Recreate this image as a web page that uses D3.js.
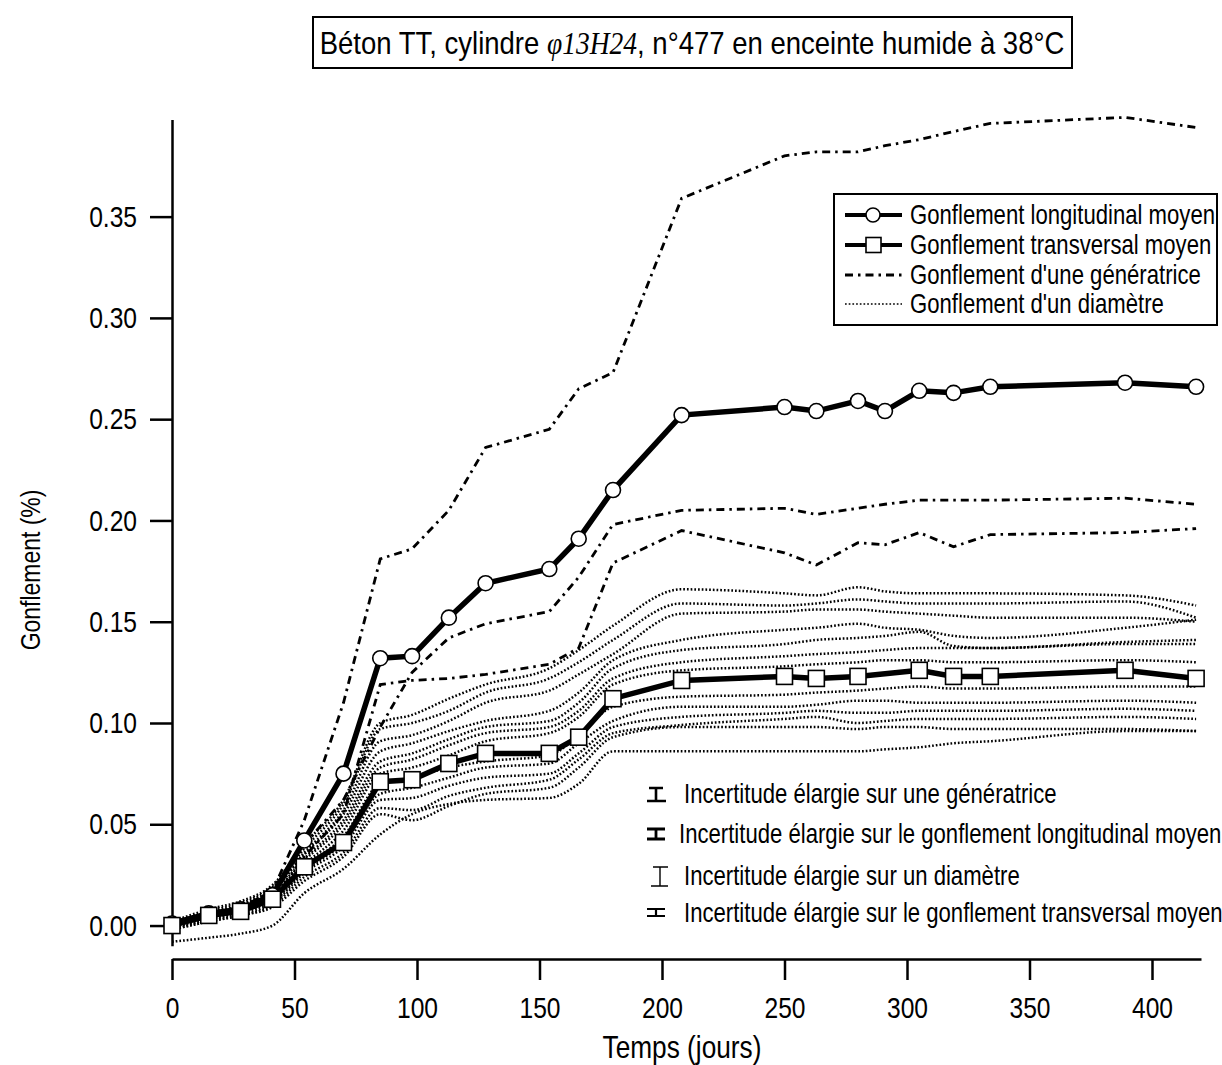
<!DOCTYPE html>
<html><head><meta charset="utf-8">
<script src="https://cdn.jsdelivr.net/npm/d3@7"></script>
<style>
body{margin:0;background:#fff}
svg{display:block}
text{font-family:"Liberation Sans Narrow","Arial Narrow","Liberation Sans",Arial,sans-serif;fill:#000}
</style>
</head><body>
<svg id="c" width="1222" height="1065"></svg>
<script>
// ---------- DATA ----------
const days = [0,15,28,41,54,70,85,98,113,128,154,166,180,208,250,263,280,291,305,319,334,389,418];
const longMean = [0.001,0.006,0.008,0.015,0.042,0.075,0.132,0.133,0.152,0.169,0.176,0.191,0.215,0.252,0.256,0.254,0.259,0.254,0.264,0.263,0.266,0.268,0.266];
const transDays = [0,15,28,41,54,70,85,98,113,128,154,166,180,208,250,263,280,305,319,334,389,418];
const transMean = [0.000,0.005,0.007,0.013,0.029,0.041,0.071,0.072,0.080,0.085,0.085,0.093,0.112,0.121,0.123,0.122,0.123,0.126,0.123,0.123,0.126,0.122];
const gen1 = [0.000,0.006,0.009,0.017,0.052,0.110,0.181,0.186,0.205,0.236,0.245,0.265,0.273,0.359,0.380,0.382,0.382,0.385,0.388,0.392,0.396,0.399,0.394];
const gen2 = [0.000,0.005,0.008,0.014,0.040,0.062,0.098,0.125,0.142,0.149,0.155,0.172,0.198,0.205,0.206,0.203,0.206,0.208,0.210,0.210,0.210,0.211,0.208];
const gen3 = [0.000,0.004,0.007,0.012,0.034,0.055,0.119,0.121,0.122,0.124,0.129,0.137,0.179,0.195,0.184,0.178,0.189,0.188,0.194,0.187,0.193,0.194,0.196];
const diam01 = [0.002,0.008,0.012,0.020,0.040,0.062,0.100,0.104,0.112,0.119,0.127,0.136,0.148,0.166,0.164,0.163,0.167,0.165,0.164,0.164,0.164,0.163,0.158];
const diam02 = [0.001,0.007,0.011,0.019,0.038,0.060,0.097,0.100,0.106,0.115,0.122,0.130,0.141,0.159,0.158,0.159,0.161,0.160,0.159,0.159,0.159,0.160,0.152];
const diam03 = [0.001,0.006,0.010,0.018,0.036,0.057,0.091,0.094,0.101,0.110,0.116,0.124,0.134,0.154,0.155,0.156,0.156,0.155,0.154,0.153,0.152,0.152,0.150];
const diam04 = [0.001,0.006,0.010,0.017,0.035,0.055,0.086,0.090,0.096,0.101,0.106,0.115,0.131,0.141,0.146,0.147,0.149,0.147,0.146,0.143,0.142,0.147,0.151];
const diam05 = [0.000,0.005,0.009,0.016,0.033,0.052,0.081,0.085,0.092,0.098,0.101,0.110,0.127,0.136,0.139,0.141,0.142,0.143,0.145,0.138,0.137,0.140,0.141];
const diam06 = [0.000,0.005,0.008,0.015,0.032,0.050,0.078,0.082,0.089,0.095,0.098,0.106,0.122,0.130,0.133,0.134,0.135,0.136,0.137,0.137,0.137,0.139,0.139];
const diam07 = [0.000,0.004,0.008,0.014,0.030,0.047,0.075,0.078,0.084,0.091,0.095,0.103,0.119,0.126,0.128,0.129,0.130,0.131,0.131,0.130,0.130,0.131,0.130];
const diam08 = [0.000,0.004,0.007,0.013,0.029,0.044,0.070,0.073,0.078,0.081,0.084,0.094,0.108,0.113,0.114,0.115,0.116,0.117,0.118,0.117,0.117,0.118,0.118];
const diam09 = [-0.001,0.003,0.007,0.012,0.027,0.041,0.065,0.068,0.073,0.078,0.080,0.090,0.101,0.108,0.108,0.109,0.111,0.111,0.110,0.110,0.110,0.111,0.110];
const diam10 = [-0.001,0.003,0.006,0.011,0.026,0.039,0.062,0.063,0.069,0.073,0.075,0.085,0.098,0.103,0.105,0.106,0.105,0.105,0.106,0.106,0.106,0.107,0.106];
const diam11 = [-0.002,0.002,0.005,0.010,0.024,0.036,0.058,0.057,0.064,0.068,0.072,0.082,0.095,0.099,0.102,0.103,0.100,0.101,0.102,0.102,0.102,0.103,0.102];
const diam12 = [-0.002,0.002,0.005,0.009,0.022,0.034,0.055,0.052,0.059,0.065,0.068,0.078,0.093,0.098,0.098,0.098,0.097,0.098,0.098,0.097,0.097,0.097,0.096];
const diam13 = [-0.008,-0.006,-0.004,0.000,0.016,0.028,0.045,0.055,0.060,0.062,0.063,0.070,0.086,0.086,0.086,0.086,0.086,0.087,0.088,0.090,0.091,0.096,0.096];
const xTicks = [0,50,100,150,200,250,300,350,400];
const yTicks = [0,0.05,0.10,0.15,0.20,0.25,0.30,0.35];
const titleParts = ["Béton TT, cylindre ", "\u03c613H24", ", n°477 en enceinte humide à 38°C"];
const xLabel = "Temps (jours)";
const yLabel = "Gonflement (%)";
const legendLabels = ["Gonflement longitudinal moyen","Gonflement transversal moyen","Gonflement d'une génératrice","Gonflement d'un diamètre"];
const uncertaintyLabels = ["Incertitude élargie sur une génératrice","Incertitude élargie sur le gonflement longitudinal moyen","Incertitude élargie sur un diamètre","Incertitude élargie sur le gonflement transversal moyen"];

// ---------- CHART ----------
const SX = 0.82; // condensed look
const svg = d3.select("#c");
const x = d3.scaleLinear().domain([0,420]).range([172,1201]);
const y = d3.scaleLinear().domain([-0.01,0.398]).range([945.8,119.4]);

function condText(parent, tx, ty, size, anchor, str, sx, rot){
  const g = parent.append("g").attr("transform",`translate(${tx},${ty})${rot?` rotate(${rot})`:""} scale(${sx||SX},1)`);
  return g.append("text").attr("x",0).attr("y",0).attr("font-size",size).attr("text-anchor",anchor||"start").text(str);
}

// axes
const yAxis = svg.append("g").attr("transform","translate(172,0)")
  .call(d3.axisLeft(y).tickValues(yTicks).tickSize(22).tickPadding(13).tickSizeOuter(0).tickFormat(d3.format(".2f")));
const xAxis = svg.append("g").attr("transform","translate(0,959)")
  .call(d3.axisBottom(x).tickValues(xTicks).tickSize(21).tickPadding(17).tickSizeOuter(0).tickFormat(d3.format("d")));
[yAxis,xAxis].forEach(g=>{
  g.selectAll("path,line").attr("stroke","#000").attr("stroke-width",2.5);
  g.selectAll("text").attr("font-size",30).attr("font-family",null).attr("transform",`scale(${SX},1)`);
});
yAxis.selectAll("text").attr("x",-35/SX);

condText(svg,682,1058,32,"middle",xLabel);
condText(svg,40,570,28,"middle",yLabel,SX,-90);

// title
svg.append("rect").attr("x",313).attr("y",17).attr("width",759).attr("height",51).attr("fill","none").attr("stroke","#000").attr("stroke-width",2);
const tg = svg.append("g").attr("transform","translate(692,54) scale(0.86,1)");
const tt = tg.append("text").attr("x",0).attr("y",0).attr("text-anchor","middle").attr("font-size",32);
tt.append("tspan").text(titleParts[0]);
tt.append("tspan").attr("font-family","'Liberation Serif','Times New Roman',serif").attr("font-style","italic").text(titleParts[1]);
tt.append("tspan").text(titleParts[2]);

const lineLin = d3.line().x(d=>x(d[0])).y(d=>y(d[1]));
const lineSmooth = d3.line().x(d=>x(d[0])).y(d=>y(d[1])).curve(d3.curveMonotoneX);

const dotStyle = {w:2.5, dash:"1.7,2"};
const genStyle = {w:2.8, dash:"8,5,2.5,5"};

// diameters
const diameters = [diam01,diam02,diam03,diam04,diam05,diam06,diam07,diam08,diam09,diam10,diam11,diam12,diam13];
diameters.forEach(s=>{
  svg.append("path").datum(days.map((d,i)=>[d,s[i]])).attr("d",lineSmooth)
    .attr("fill","none").attr("stroke","#000").attr("stroke-width",dotStyle.w).attr("stroke-dasharray",dotStyle.dash);
});
// generatrices
[gen1,gen2,gen3].forEach(s=>{
  svg.append("path").datum(days.map((d,i)=>[d,s[i]])).attr("d",lineLin)
    .attr("fill","none").attr("stroke","#000").attr("stroke-width",genStyle.w).attr("stroke-dasharray",genStyle.dash);
});
// longitudinal mean
const longData = days.map((d,i)=>[d,longMean[i]]);
svg.append("path").datum(longData).attr("d",lineLin).attr("fill","none").attr("stroke","#000").attr("stroke-width",5.5);
svg.selectAll("circle.lm").data(longData).enter().append("circle").attr("class","lm")
  .attr("cx",d=>x(d[0])).attr("cy",d=>y(d[1])).attr("r",7.5)
  .attr("fill","#fff").attr("stroke","#000").attr("stroke-width",1.6);
// transversal mean
const transData = transDays.map((d,i)=>[d,transMean[i]]);
svg.append("path").datum(transData).attr("d",lineLin).attr("fill","none").attr("stroke","#000").attr("stroke-width",5.5);
svg.selectAll("rect.tm").data(transData).enter().append("rect").attr("class","tm")
  .attr("x",d=>x(d[0])-8).attr("y",d=>y(d[1])-8).attr("width",16).attr("height",16)
  .attr("fill","#fff").attr("stroke","#000").attr("stroke-width",1.6);

// legend box
svg.append("rect").attr("x",834).attr("y",194).attr("width",383).attr("height",131).attr("fill","#fff").attr("stroke","#000").attr("stroke-width",2);
const legY = [215,245,275,304];
svg.append("line").attr("x1",845).attr("x2",902).attr("y1",legY[0]).attr("y2",legY[0]).attr("stroke","#000").attr("stroke-width",4);
svg.append("circle").attr("cx",873).attr("cy",legY[0]).attr("r",7).attr("fill","#fff").attr("stroke","#000").attr("stroke-width",1.6);
svg.append("line").attr("x1",845).attr("x2",902).attr("y1",legY[1]).attr("y2",legY[1]).attr("stroke","#000").attr("stroke-width",4);
svg.append("rect").attr("x",866).attr("y",legY[1]-7.5).attr("width",15).attr("height",15).attr("fill","#fff").attr("stroke","#000").attr("stroke-width",1.6);
svg.append("line").attr("x1",845).attr("x2",902).attr("y1",legY[2]).attr("y2",legY[2]).attr("stroke","#000").attr("stroke-width",genStyle.w).attr("stroke-dasharray",genStyle.dash);
svg.append("line").attr("x1",845).attr("x2",902).attr("y1",legY[3]).attr("y2",legY[3]).attr("stroke","#000").attr("stroke-width",1.5).attr("stroke-dasharray",dotStyle.dash);
legendLabels.forEach((t,i)=>{ condText(svg,910,legY[i]+9,27,"start",t); });

// uncertainty legend
const uY = [794,834,876,913];
const g = svg.append("g").attr("stroke","#000").attr("fill","none");
g.append("path").attr("d","M649,788H663M656,788V801M647,801H666").attr("stroke-width",2.6);
g.append("path").attr("d","M647,829H665M647,839H665M656,829V839").attr("stroke-width",2.8);
g.append("path").attr("d","M653,867H668M660,867V886M651,886H668").attr("stroke-width",1.4);
g.append("path").attr("d","M647,909H665M647,916H665M656,909V916").attr("stroke-width",2.2);
uncertaintyLabels.forEach((t,i)=>{ condText(svg,i===1?679:684,uY[i]+9,27,"start",t); });
</script>
</body></html>
